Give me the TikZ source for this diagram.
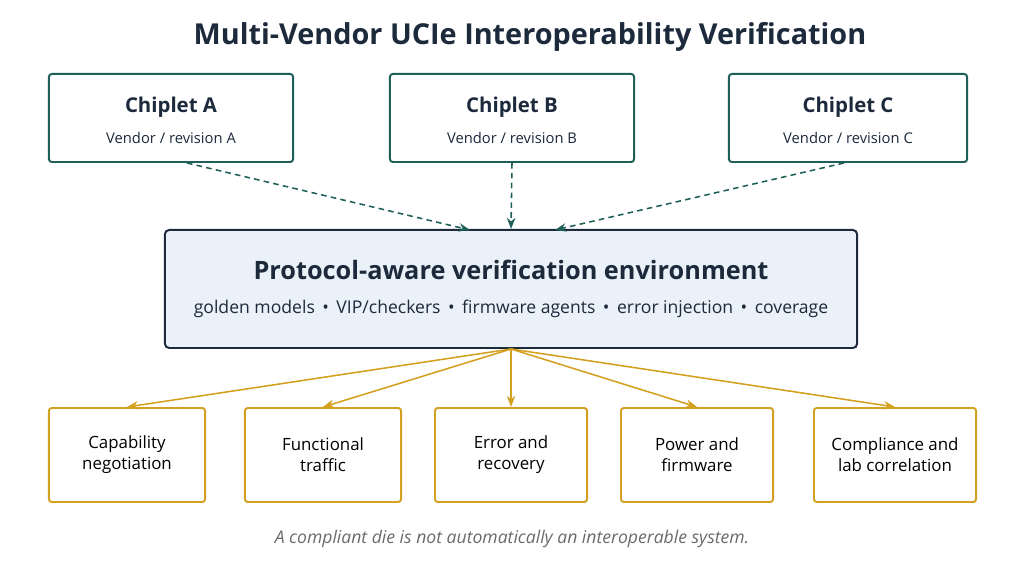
\documentclass[tikz,border=0pt]{standalone}
\usepackage{fontspec}
\setmainfont{Open Sans}
\usetikzlibrary{positioning,arrows.meta}
\definecolor{teal}{HTML}{1F5F5A}
\definecolor{navy}{HTML}{1C2A3C}
\definecolor{envfill}{HTML}{EAF1F8}
\definecolor{gold}{HTML}{D4A020}
\definecolor{capgray}{HTML}{6A6A6A}
\begin{document}
\begin{tikzpicture}[
    x=0.025cm, y=-0.025cm,
    >=Stealth,
    chiplet/.style={draw=teal, line width=1.4pt, rounded corners=2pt, minimum width=6.1cm, minimum height=2.2cm, align=center, fill=white},
    env/.style={draw=navy, line width=1.4pt, rounded corners=3pt, fill=envfill, minimum width=17.3cm, minimum height=2.95cm},
    check/.style={draw=gold, line width=1.4pt, rounded corners=2pt, minimum width=3.9cm, minimum height=2.35cm, align=center, font=\fontsize{12}{15}\selectfont},
    feed/.style={->, draw=teal, line width=1.1pt, dash pattern=on 4pt off 3pt},
    fan/.style={->, draw=gold, line width=1.1pt}
]
\useasboundingbox (0,0) rectangle (1024,576);

% ---------------- Title ----------------
\node[font=\fontsize{20.5}{24}\selectfont\bfseries, text=navy] (title) at (530,37) {Multi-Vendor UCIe Interoperability Verification};

% ---------------- Chiplets ----------------
\node[chiplet] (ca) at (171,118) {};
\node[chiplet] (cb) at (512,118) {};
\node[chiplet, minimum width=5.95cm] (cc) at (848,118) {};
\foreach \n/\l in {ca/A, cb/B, cc/C} {
  \node[font=\fontsize{14.5}{17}\selectfont\bfseries, text=navy] at ([yshift=0.28cm]\n.center) {Chiplet \l};
  \node[font=\fontsize{10.5}{13}\selectfont, text=navy] at ([yshift=-0.5cm]\n.center) {Vendor / revision \l};
}

% ---------------- Environment ----------------
\node[env] (env) at (511,289) {};
\node[font=\fontsize{18}{22}\selectfont\bfseries, text=navy] at ([yshift=0.47cm]env.center) {Protocol-aware verification environment};
\node[font=\fontsize{12.5}{15}\selectfont, text=navy] at ([yshift=-0.5cm]env.center) {golden models \,•\, VIP/checkers \,•\, firmware agents \,•\, error injection \,•\, coverage};

% ---------------- Checks ----------------
\node[check] (cap) at (127,455) {Capability\\negotiation};
\node[check] (fun) at (323,455) {Functional\\traffic};
\node[check, minimum width=3.8cm] (err) at (511,455) {Error and\\recovery};
\node[check, minimum width=3.8cm] (pwr) at (697,455) {Power and\\firmware};
\node[check, minimum width=4.05cm] (cmp) at (895,455) {Compliance and\\lab correlation};

% ---------------- Connectors ----------------
\coordinate (envtop1) at (470,230);
\coordinate (envtop3) at (555,230);
\draw[feed] (ca.south) ++(0.4cm,0) coordinate (caout) (caout) -- (envtop1);
\draw[feed] (cb.south) -- (env.north);
\draw[feed] (cc.south) ++(-0.1cm,0) coordinate (ccout) (ccout) -- (envtop3);
\foreach \n in {cap, fun, err, pwr, cmp}
  \draw[fan] (env.south) -- (\n.north);

% ---------------- Caption ----------------
\node[font=\fontsize{12.5}{15}\selectfont\itshape, text=capgray] (note) at (512,539) {A compliant die is not automatically an interoperable system.};
\end{tikzpicture}
\end{document}
